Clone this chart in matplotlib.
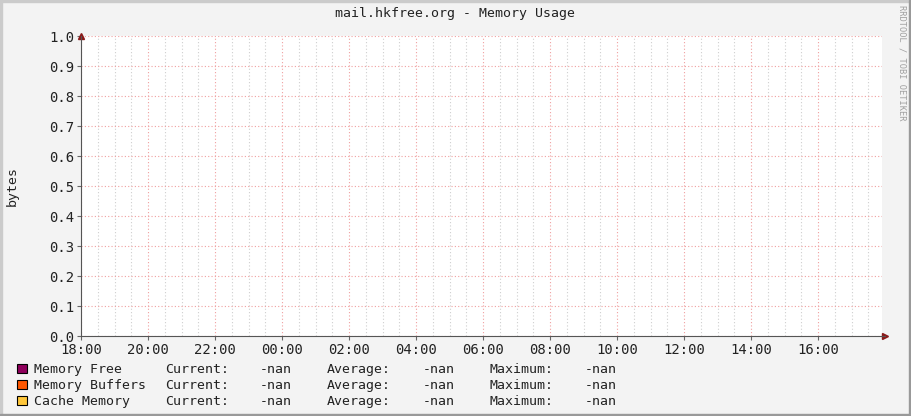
import numpy as np
import matplotlib
matplotlib.use("Agg")
import matplotlib.pyplot as plt
from matplotlib.patches import Rectangle

# data: all values are NaN (no data in the RRD)
series_names = ["Memory Free", "Memory Buffers", "Cache Memory"]
series_colors = ["#8F005C", "#FF5700", "#FFC73B"]
current_vals = ["-nan", "-nan", "-nan"]
average_vals = ["-nan", "-nan", "-nan"]
maximum_vals = ["-nan", "-nan", "-nan"]
hours = [0, 24]  # hours after 18:00
series_vals = [[np.nan, np.nan], [np.nan, np.nan], [np.nan, np.nan]]
tick_labels = ["18:00", "20:00", "22:00", "00:00", "02:00", "04:00",
               "06:00", "08:00", "10:00", "12:00", "14:00", "16:00"]
y_ticks = [0.0, 0.1, 0.2, 0.3, 0.4, 0.5, 0.6, 0.7, 0.8, 0.9, 1.0]

W, H = 911, 416
mono = "DejaVu Sans Mono"
fig = plt.figure(figsize=(W / 100, H / 100), dpi=100)
fig.patch.set_facecolor("#F3F3F3")

# 3d-ish frame of rrdtool
fig.patches.append(Rectangle((0, 1 - 2 / H), 1, 2 / H, transform=fig.transFigure, color="#CBCBCB", zorder=0))
fig.patches.append(Rectangle((0, 0), 2 / W, 1, transform=fig.transFigure, color="#CBCBCB", zorder=0))
fig.patches.append(Rectangle((0, 0), 1, 2 / H, transform=fig.transFigure, color="#999999", zorder=0))
fig.patches.append(Rectangle((1 - 2 / W, 0), 2 / W, 1, transform=fig.transFigure, color="#999999", zorder=0))

left, right, top, bottom = 81, 882, 36, 336
ax = fig.add_axes([left / W, 1 - bottom / H, (right - left) / W, (bottom - top) / H])
ax.set_facecolor("white")

for vals, c in zip(series_vals, series_colors):
    ax.plot(hours, vals, color=c)

xmax = (right - left) / 33.5  # 2 hours = 67 px
ax.set_xlim(0, xmax)
ax.set_ylim(0, 1.0)

ax.set_xticks(np.arange(0, 24, 2))
ax.set_xticklabels(tick_labels, family=mono, fontsize=10)
ax.set_xticks(np.arange(0, xmax, 0.5), minor=True)
ax.set_yticks(y_ticks)
ax.set_yticklabels(["%.1f" % v for v in y_ticks], family=mono, fontsize=10)

ax.grid(True, which="minor", axis="x", color="#CFCFCF", linestyle=(0, (1, 2)), linewidth=0.8)
ax.grid(True, which="major", axis="x", color="#F0A0A0", linestyle=(0, (1, 2)), linewidth=0.8)
ax.grid(True, which="major", axis="y", color="#F0A0A0", linestyle=(0, (1, 2)), linewidth=0.8)
ax.set_axisbelow(True)

ax.tick_params(axis="both", which="major", length=3, width=0.8, color="#666666", pad=2, labelcolor="#222222")
ax.tick_params(axis="x", which="minor", length=0)

for s in ["top", "right"]:
    ax.spines[s].set_visible(False)
ax.spines["left"].set_color("#555555")
ax.spines["bottom"].set_color("#555555")
ax.spines["bottom"].set_bounds(0, xmax + 0.1)

# arrows at the axis ends
ax.plot([0], [1.0], marker="^", color="#8B1A1A", markersize=4, clip_on=False, transform=ax.transAxes)
ax.plot([1.004], [0], marker=">", color="#8B1A1A", markersize=4, clip_on=False, transform=ax.transAxes)

fig.text(455 / W, 1 - 14 / H, "mail.hkfree.org - Memory Usage", family=mono, fontsize=9.5,
         ha="center", va="center", color="#222222")
fig.text(12 / W, 1 - 186 / H, "bytes", family=mono, fontsize=9.5, rotation=90,
         ha="center", va="center", color="#222222")
fig.text(902 / W, 1 - 5 / H, "RRDTOOL / TOBI OETIKER", family=mono, fontsize=6.2, rotation=270,
         ha="center", va="top", color="#A0A0A0")

# legend
row_base = [373, 389, 405]
for i, name in enumerate(series_names):
    y = 1 - row_base[i] / H
    fig.patches.append(Rectangle((17 / W, y + 0.5 / H), 10 / W, 9 / H, transform=fig.transFigure,
                                 facecolor=series_colors[i], edgecolor="black", linewidth=0.8))
    kw = dict(family=mono, fontsize=9.5, va="baseline", color="#222222")
    fig.text(34 / W, y, name, **kw)
    fig.text(165 / W, y, "Current:", **kw)
    fig.text(260 / W, y, current_vals[i], **kw)
    fig.text(327 / W, y, "Average:", **kw)
    fig.text(423 / W, y, average_vals[i], **kw)
    fig.text(489 / W, y, "Maximum:", **kw)
    fig.text(585 / W, y, maximum_vals[i], **kw)

fig.savefig("out.png", dpi=100, facecolor=fig.get_facecolor())
